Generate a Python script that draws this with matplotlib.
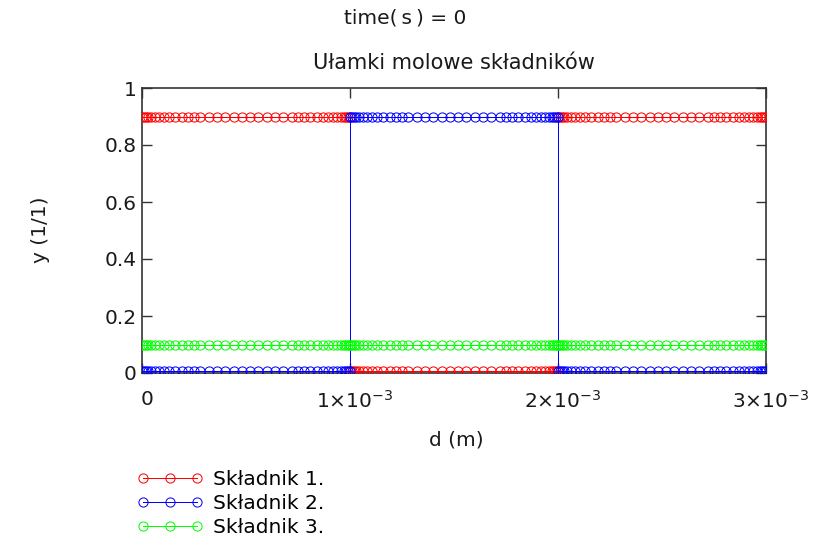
import matplotlib
matplotlib.use("Agg")
import matplotlib.pyplot as plt
from matplotlib.lines import Line2D
from matplotlib.transforms import ScaledTranslation

# Grid nodes (mm) across three layers; interfaces at 1 and 2 mm appear twice (jump)
d_layer1 = [0.000, 0.008, 0.018, 0.030, 0.045, 0.062, 0.082, 0.105, 0.130, 0.160,
            0.190, 0.220, 0.250, 0.280, 0.320, 0.360, 0.400, 0.440, 0.480, 0.520,
            0.560, 0.600, 0.640, 0.680, 0.720, 0.750, 0.780, 0.810, 0.840, 0.870,
            0.895, 0.918, 0.938, 0.955, 0.970, 0.982, 0.992, 1.000]
d_layer2 = [1.000, 1.008, 1.018, 1.030, 1.045, 1.062, 1.082, 1.105, 1.130, 1.160,
            1.190, 1.220, 1.250, 1.280, 1.320, 1.360, 1.400, 1.440, 1.480, 1.520,
            1.560, 1.600, 1.640, 1.680, 1.720, 1.750, 1.780, 1.810, 1.840, 1.870,
            1.895, 1.918, 1.938, 1.955, 1.970, 1.982, 1.992, 2.000]
d_layer3 = [2.000, 2.008, 2.018, 2.030, 2.045, 2.062, 2.082, 2.105, 2.130, 2.160,
            2.190, 2.220, 2.250, 2.280, 2.320, 2.360, 2.400, 2.440, 2.480, 2.520,
            2.560, 2.600, 2.640, 2.680, 2.720, 2.750, 2.780, 2.810, 2.840, 2.870,
            2.895, 2.918, 2.938, 2.955, 2.970, 2.982, 2.992, 3.000]

# Mole fractions per layer
y1_layers = [0.9, 0.008, 0.9]
y2_layers = [0.008, 0.9, 0.008]
y3_layers = [0.1, 0.1, 0.1]

series_names = ["Składnik 1.", "Składnik 2.", "Składnik 3."]
series_colors = ["#ff0000", "#0000ff", "#00ff00"]

x_ticks = [0, 1e-3, 2e-3, 3e-3]
x_tick_labels = ["0", r"$1{\times}10^{-3}$", r"$2{\times}10^{-3}$", r"$3{\times}10^{-3}$"]
y_ticks = [0, 0.2, 0.4, 0.6, 0.8, 1.0]
y_tick_labels = ["0", "0.2", "0.4", "0.6", "0.8", "1"]

plt.rcParams['font.family'] = ['DejaVu Sans']
plt.rcParams['mathtext.fontset'] = 'dejavusans'

FS = 14.5
TXT = '#1a1a1a'
LW = 0.72

fig = plt.figure(figsize=(8.14, 5.43), dpi=100)
ax = fig.add_axes([142/814, 1 - 373/543, 624/814, 285/543])

layers = [d_layer1, d_layer2, d_layer3]
handles = []
for vals, col, name in zip([y1_layers, y2_layers, y3_layers], series_colors, series_names):
    xs, ys = [], []
    for lay, v in zip(layers, vals):
        xs += [t * 1e-3 for t in lay]
        ys += [v] * len(lay)
    ax.plot(xs, ys, color=col, lw=LW, marker='o', ms=6.6, mfc='none', mec=col,
            mew=LW, zorder=3, antialiased=False)
    handles.append(Line2D([0], [0], color=col, lw=LW, marker='o', ms=6.6,
                          mfc='none', mec=col, mew=LW, antialiased=False))

ax.set_xlim(0, 3e-3)
ax.set_ylim(0, 1)
ax.set_xticks(x_ticks)
ax.set_xticklabels(x_tick_labels)
ax.set_yticks(y_ticks)
ax.set_yticklabels(y_tick_labels)
ax.tick_params(direction='in', length=7, width=1, top=True, right=True,
               labelsize=FS, colors='#333333', labelcolor=TXT)
ax.tick_params(axis='x', pad=12)
ax.tick_params(axis='y', pad=4)
for s in ax.spines.values():
    s.set_color('#333333')
    s.set_linewidth(1.2)

shift = ScaledTranslation(5/100, 0, fig.dpi_scale_trans)
for lab in ax.get_xticklabels():
    lab.set_transform(lab.get_transform() + shift)

fig.text(405/814, 1 - 18/543, "time(\u2009s\u2009) = 0", ha='center', va='center', fontsize=14.5, color=TXT)
fig.text(454/814, 1 - 63/543, "Ułamki molowe składników", ha='center', va='center', fontsize=15, color=TXT)
fig.text(456/814, 1 - 440/543, "d (m)", ha='center', va='center', fontsize=FS, color=TXT)
fig.text(40/814, 1 - 230/543, "y (1/1)", ha='center', va='center', rotation=90, fontsize=FS, color=TXT)

fig.legend(handles, series_names, loc='upper left', bbox_to_anchor=(137/814, 1 - 470/543),
           frameon=False, fontsize=FS, numpoints=3, handlelength=3.3, handletextpad=0.45,
           labelspacing=0.26, borderaxespad=0, borderpad=0)

fig.savefig("out.png", dpi=100)
